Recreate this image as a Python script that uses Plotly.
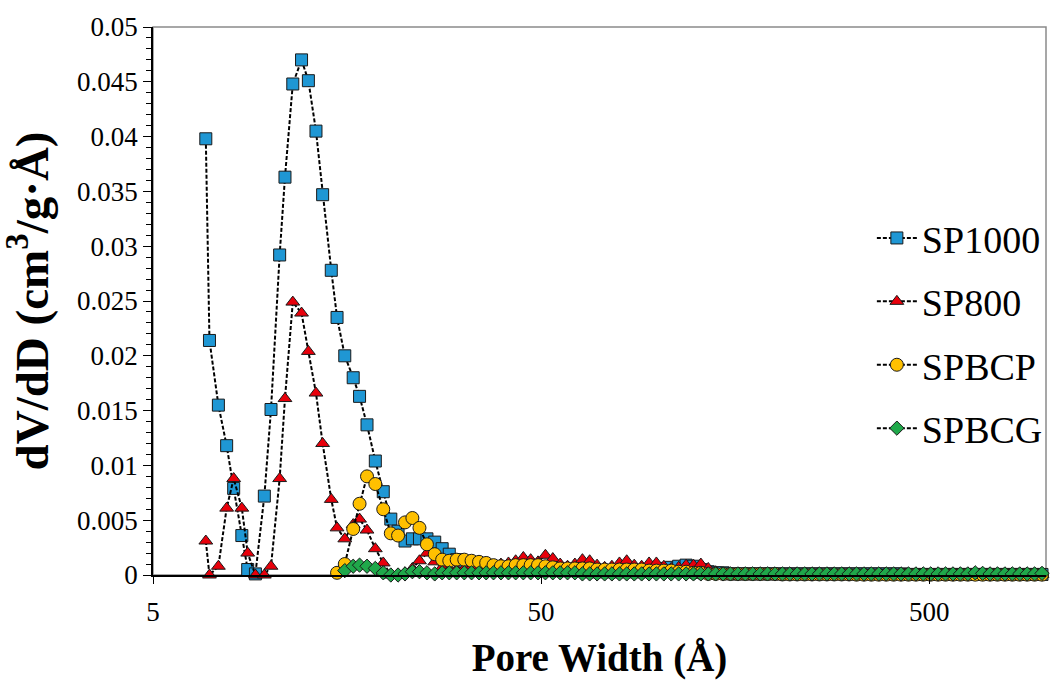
import plotly.graph_objects as go

# Pore width grid (Å)
X_GRID = [6.84, 6.99, 7.37, 7.74, 8.07, 8.47, 8.77, 9.18, 9.68, 10.07,
          10.6, 10.94, 11.46, 12.07, 12.57, 13.15, 13.68, 14.4, 14.9, 15.6,
          16.4, 17.03, 17.8, 18.7, 19.6, 20.5, 21.4, 22.3, 23.3, 24.3,
          25.4, 26.6, 27.8, 29.0, 30.3, 31.7, 33.1, 34.6, 36.1, 37.7,
          39.4, 41.2, 43.0, 45.0, 47.0, 49.1, 51.3, 53.6, 56.0, 58.5,
          61.1, 63.9, 66.7, 69.7, 72.9, 76.1, 79.6, 83.1, 86.9, 90.8,
          94.9, 99.1, 103.6, 108.2, 113.1, 118.2, 123.5, 129.0, 134.8, 140.9,
          147.2, 153.8, 160.7, 168.0, 175.5, 183.4, 191.6, 200.3, 209.3, 218.7,
          228.5, 238.8, 249.5, 260.7, 272.5, 284.7, 297.5, 310.9, 324.9, 339.5,
          354.8, 370.8, 387.5, 404.9, 423.1, 442.2, 462.1, 482.9, 504.6, 527.3,
          551.0, 575.8, 601.7, 628.8, 657.1, 686.7, 717.6, 749.9, 783.6, 818.9,
          855.8, 894.3, 934.5, 976.6]

SP1000 = [0.0398, 0.0214, 0.0155, 0.0118, 0.0079, 0.0036, 0.0005, 0.0001, 0.0072, 0.0151,
          0.0292, 0.0363, 0.0448, 0.0470, 0.0451, 0.0405, 0.0347, 0.0278, 0.0235, 0.0200,
          0.0180, 0.0163, 0.0137, 0.0104, 0.0076, 0.0051, 0.0040, 0.0031, 0.0033, 0.0033,
          0.0033, 0.0030, 0.0024, 0.0019, 0.0014, 0.0011, 0.0009, 0.0008, 0.0007, 0.0006,
          0.0006, 0.0005, 0.0005, 0.0005, 0.0005, 0.0005, 0.0005, 0.0004, 0.0004, 0.0004,
          0.0004, 0.0004, 0.0003, 0.0003, 0.0003, 0.0003, 0.0003, 0.0003, 0.0003, 0.0003,
          0.0004, 0.0005, 0.0006, 0.0007, 0.0008, 0.0009, 0.0008, 0.0005, 0.0003, 0.0002,
          0.0002, 0.0001, 0.0001, 0.0001, 0.0001, 0.0001, 0.0001, 0.0001, 0.0001, 0.0001,
          0.0001, 0.0001, 0.0001, 0.0001, 0.0001, 0.0001, 0.0001, 0.0001, 0.0001, 0.0001,
          0.0001, 0.0001, 0.0001, 0.0001, 0.0001, 0.00005, 0.00005, 0.00005, 0.00005, 0.00005,
          0.00005, 0.00005, 0.00005, 0.00005, 0.00005, 0.00005, 0.00005, 0.00005, 0.00005, 0.00005,
          0.00005, 0.00005, 0.00005, 0.00005]

SP800 = [0.0031, 0.0000, 0.0008, 0.0061, 0.0088, 0.0061, 0.0020, 0.0000, 0.0000, 0.0008,
         0.0088, 0.0161, 0.0249, 0.0239, 0.0204, 0.0166, 0.0120, 0.0069, 0.0043, 0.0033,
         0.0046, 0.0051, 0.0041, 0.0024, 0.0011, 0.0000, 0.0000, 0.0002, 0.0006, 0.0013,
         0.0020, 0.0012, 0.0007, 0.0005, 0.0005, 0.0006, 0.0007, 0.0008, 0.0008, 0.0009,
         0.0010, 0.0011, 0.0013, 0.0016, 0.0014, 0.0012, 0.0018, 0.0015, 0.0010, 0.0008,
         0.0010, 0.0014, 0.0013, 0.0009, 0.0007, 0.0008, 0.0011, 0.0013, 0.0009, 0.0008,
         0.0011, 0.0011, 0.0008, 0.0006, 0.0007, 0.0009, 0.0009, 0.0010, 0.0006, 0.0003,
         0.0002, 0.0001, 0.0001, 0.0001, 0.0001, 0.0001, 0.0001, 0.0001, 0.0001, 0.0001,
         0.0001, 0.0001, 0.0001, 0.0001, 0.0001, 0.0001, 0.0001, 0.0001, 0.0001, 0.0001,
         0.0001, 0.0001, 0.0001, 0.0001, 0.0001, 0.00005, 0.00005, 0.00005, 0.00005, 0.00005,
         0.00005, 0.00005, 0.00005, 0.00005, 0.00005, 0.00005, 0.00005, 0.00005, 0.00005, 0.00005,
         0.00005, 0.00005, 0.00005, 0.00005]

# SPBCP starts at grid index 18
SPBCP = [0.0002, 0.0010, 0.0042, 0.0065, 0.0090, 0.0083, 0.0060, 0.0038, 0.0036, 0.0048,
         0.0052, 0.0043, 0.0028, 0.0019, 0.0014, 0.0013, 0.0014, 0.0014, 0.0013, 0.0012,
         0.0011, 0.0009, 0.0008, 0.0008, 0.0009, 0.0009, 0.0009, 0.0009, 0.0008, 0.0007,
         0.0006, 0.0006, 0.0006, 0.0006, 0.0006, 0.0005, 0.0005, 0.0005, 0.0005, 0.0005,
         0.0005, 0.0005, 0.0004, 0.0004, 0.0004, 0.0004, 0.0003, 0.0003, 0.0002, 0.0002,
         0.0001, 0.0001, 0.0001, 0.0001, 0.0001, 0.0001, 0.0001, 0.0001, 0.0001, 0.0001,
         0.00005, 0.00005, 0.00005, 0.00005, 0.00005, 0.00005, 0.00005, 0.00005, 0.00005, 0.00005,
         0.00003, 0.00003, 0.00003, 0.00003, 0.00003, 0.00003, 0.00003, 0.00003, 0.00003, 0.00003,
         0.00003, 0.00003, 0.00003, 0.00003, 0.00003, 0.00003, 0.00003, 0.00003, 0.00003, 0.00003,
         0.00003, 0.00003, 0.00003, 0.00003, 0.00003, 0.00003]

# SPBCG starts at grid index 19
SPBCG = [0.0004, 0.0008, 0.0009, 0.0008, 0.0006, 0.0002, 0.0000, 0.0000, 0.0001, 0.0003,
         0.0003, 0.0002, 0.0001, 0.0002, 0.0002, 0.0002, 0.0002, 0.0002, 0.0002, 0.0002,
         0.0002, 0.0002, 0.0002, 0.0002, 0.0002, 0.0002, 0.0002, 0.0002, 0.0002, 0.0002,
         0.0002, 0.0002, 0.0001, 0.0001, 0.0001, 0.0001, 0.0001, 0.0001, 0.0001, 0.0001,
         0.0001, 0.0001, 0.0001, 0.0001, 0.0001, 0.0001, 0.0001, 0.0001, 0.0001, 0.0001,
         0.0001, 0.0001, 0.0001, 0.0001, 0.0001, 0.0001, 0.0001, 0.0001, 0.0001, 0.0001,
         0.0001, 0.0001, 0.0001, 0.0001, 0.0001, 0.0001, 0.0001, 0.0001, 0.0001, 0.0001,
         0.0001, 0.0001, 0.0001, 0.0001, 0.0001, 0.0001, 0.0001, 0.0001, 0.0001, 0.0001,
         0.0001, 0.0001, 0.0001, 0.0001, 0.0001, 0.0002, 0.00015, 0.0001, 0.0001, 0.0001,
         0.0001, 0.0001, 0.0001, 0.0001, 0.00015]

SERIES = [
    ("SP1000", X_GRID, SP1000, "square", "#1f97d4", 12),
    ("SP800", X_GRID, SP800, "triangle-up", "#e8000b", 12),
    ("SPBCP", X_GRID[18:], SPBCP, "circle", "#ffc000", 13),
    ("SPBCG", X_GRID[19:], SPBCG, "diamond", "#1fa84a", 11),
]

FONT = "Liberation Serif"

fig = go.Figure()
for name, xs, ys, sym, col, sz in SERIES:
    fig.add_trace(go.Scatter(
        x=xs, y=ys, name=name, mode="lines+markers", legendgroup=name,
        line=dict(color="black", width=2, dash="4px,2px"),
        marker=dict(symbol=sym, size=sz, color=col, line=dict(color="#1a1a1a", width=1)),
        cliponaxis=False,
    ))

fig.update_layout(
    width=1051, height=680,
    margin=dict(l=153, r=3, t=27, b=105),
    paper_bgcolor="white", plot_bgcolor="white",
    font=dict(family=FONT, color="black"),
    showlegend=True,
    legend=dict(x=0.805, y=0.672, xanchor="left", yanchor="top",
                font=dict(family=FONT, size=38, color="black"),
                bgcolor="rgba(0,0,0,0)", tracegroupgap=11, itemwidth=40),
    shapes=[dict(type="rect", xref="paper", yref="paper", x0=0, y0=0, x1=1, y1=1,
                 line=dict(color="#8a8a8a", width=1.5), layer="below")],
    annotations=[dict(text="<b>dV/dD (cm<sup>3</sup>/g·Å)</b>", textangle=-90,
                      xref="paper", yref="paper", x=-0.1395, y=0.50,
                      xanchor="center", yanchor="middle", showarrow=False,
                      font=dict(family=FONT, size=47, color="black"))],
)

fig.update_xaxes(
    type="log", range=[0.69897, 3.0],
    tickvals=[5, 50, 500], ticktext=["5", "50", "500"],
    ticks="outside", ticklen=7, tickcolor="black", tickwidth=1,
    showline=True, linecolor="black", linewidth=1.5,
    showgrid=False, zeroline=False,
    tickfont=dict(family=FONT, size=27, color="black"),
    ticklabelstandoff=5,
    title=dict(text="<b>Pore Width (Å)</b>", font=dict(family=FONT, size=39, color="black"), standoff=20),
)

fig.update_yaxes(
    range=[0, 0.05],
    tickvals=[0, 0.005, 0.01, 0.015, 0.02, 0.025, 0.03, 0.035, 0.04, 0.045, 0.05],
    ticktext=["0", "0.005", "0.01", "0.015", "0.02", "0.025", "0.03", "0.035", "0.04", "0.045", "0.05"],
    ticks="outside", ticklen=8, tickcolor="black", tickwidth=1,
    minor=dict(dtick=0.001, ticks="outside", ticklen=5, tickcolor="black", tickwidth=1),
    showline=True, linecolor="black", linewidth=1.5,
    showgrid=False, zeroline=False,
    tickfont=dict(family=FONT, size=27, color="black"),
)

fig.write_html("out.html")
